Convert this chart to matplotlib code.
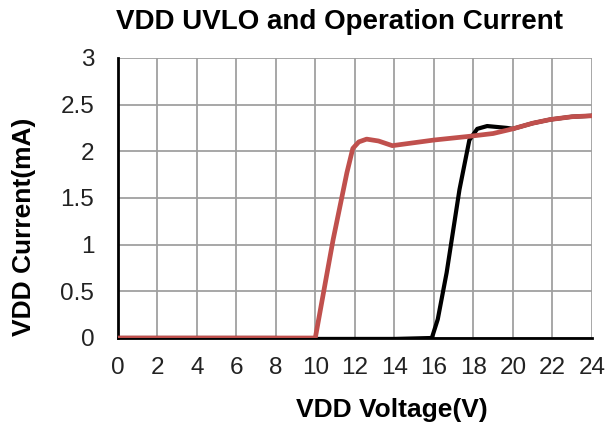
import matplotlib
matplotlib.use("Agg")
import matplotlib.pyplot as plt

plt.rcParams.update({
    "font.family": ["Liberation Sans", "DejaVu Sans"],
    "figure.facecolor": "white",
})

# red curve: supply rising (turn-on at ~10V after UVLO release)
red_v = [0, 2, 4, 6, 8, 9.5, 10, 10.9, 11.6, 11.9, 12.2, 12.6, 13.2, 13.9,
         16, 17.8, 19, 20, 21, 21.9, 23, 24]
red_i = [0, 0, 0, 0, 0, 0, 0, 1.05, 1.77, 2.03, 2.10, 2.13, 2.11, 2.06,
         2.12, 2.16, 2.19, 2.24, 2.30, 2.34, 2.37, 2.38]

# black curve: turn-on at ~16V
blk_v = [0, 8, 9, 10, 14, 15.9, 16.2, 16.65, 17.3, 17.8, 18.2, 18.7, 19.2,
         19.7, 20, 21, 21.9, 23, 24]
blk_i = [0, 0, -0.01, -0.01, -0.01, 0, 0.2, 0.70, 1.59, 2.12, 2.24, 2.27,
         2.26, 2.25, 2.24, 2.30, 2.34, 2.37, 2.38]

x_ticks = list(range(0, 25, 2))
y_ticks = [0, 0.5, 1, 1.5, 2, 2.5, 3]
y_labels = ["0", "0.5", "1", "1.5", "2", "2.5", "3"]

fig = plt.figure(figsize=(6.07, 4.32), dpi=100)
ax = fig.add_axes([0.194, 0.2176, 0.781, 0.6484])

ax.plot(blk_v, blk_i, color="black", linewidth=3.0, solid_joinstyle="round",
        solid_capstyle="round", zorder=3)
ax.plot(red_v, red_i, color="#c0504d", linewidth=3.4, solid_joinstyle="round",
        solid_capstyle="round", zorder=4)

ax.set_xlim(0, 24)
ax.set_ylim(0, 3)
ax.set_xticks(x_ticks)
ax.set_yticks(y_ticks)
ax.set_yticklabels(y_labels)
ax.tick_params(length=0, labelsize=17.5, colors="#222222")
ax.tick_params(axis="x", pad=14)
ax.tick_params(axis="y", pad=17)
ax.grid(True, color="#a0a0a0", linewidth=1.3)
ax.set_axisbelow(True)
for s in ["top", "right"]:
    ax.spines[s].set_visible(False)
ax.spines["left"].set_linewidth(2)
ax.spines["bottom"].set_linewidth(2)

ax.set_xlabel("VDD Voltage(V)", fontsize=19, fontweight="bold")
ax.xaxis.set_label_coords(0.578, -0.215)
ax.set_ylabel("VDD Current(mA)", fontsize=19, fontweight="bold")
ax.yaxis.set_label_coords(-0.172, 0.396)
fig.text(0.560, 0.950, "VDD UVLO and Operation Current", fontsize=20,
         fontweight="bold", ha="center", va="center")

fig.savefig("out.png", dpi=100)
